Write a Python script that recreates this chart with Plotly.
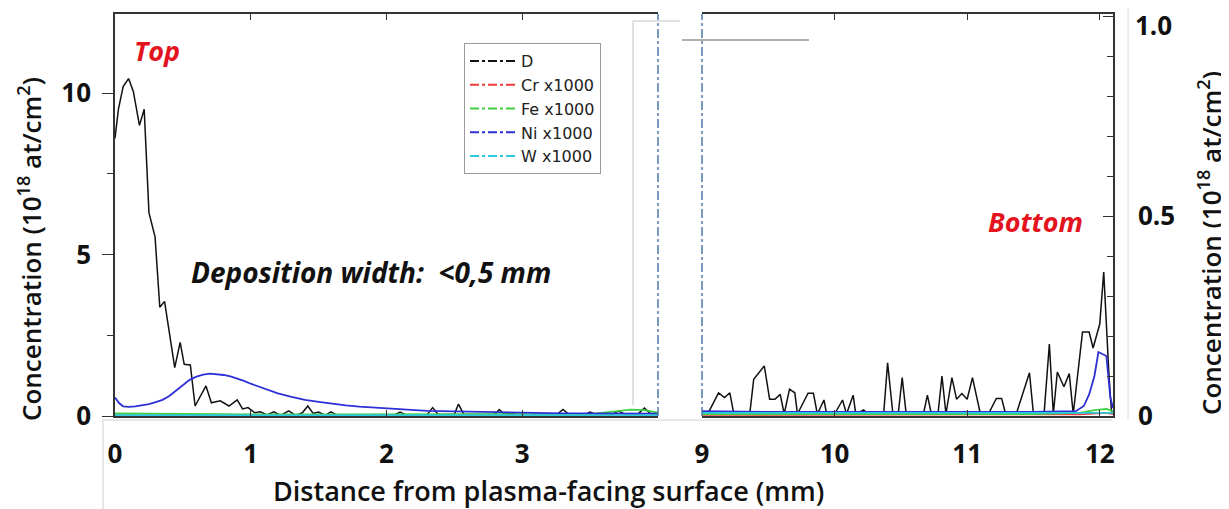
import plotly.graph_objects as go

# page body has an 8px margin; the figure fills the rest of the 1229x509 window
OFF = 8
W, H = 1229 - OFF, 509 - OFF

# ---------------- data ----------------
# Top side (left panel), x in mm, concentration in 1e18 at/cm2
x_d_top = [0.00, 0.025, 0.06, 0.10, 0.135, 0.18, 0.215, 0.25, 0.295, 0.33, 0.365, 0.40, 0.44, 0.48, 0.51,
           0.555, 0.59, 0.67, 0.71, 0.775, 0.84, 0.90, 0.94, 0.98, 1.03, 1.07, 1.12, 1.17, 1.22, 1.28,
           1.33, 1.38, 1.42, 1.46, 1.50, 1.55, 1.59, 1.64, 1.70, 1.80, 1.90, 2.00, 2.05, 2.10, 2.15,
           2.25, 2.30, 2.34, 2.38, 2.45, 2.50, 2.53, 2.57, 2.65, 2.75, 2.80, 2.83, 2.87, 2.92, 2.96,
           3.05, 3.15, 3.25, 3.30, 3.35, 3.45, 3.50, 3.55, 3.65, 3.71, 3.76, 3.85, 3.90, 3.95, 4.00]
d_top = [8.6, 9.5, 10.2, 10.45, 10.05, 9.0, 9.5, 6.3, 5.55, 3.37, 3.55, 2.55, 1.5, 2.28, 1.6,
         1.58, 0.31, 0.93, 0.41, 0.47, 0.31, 0.5, 0.22, 0.26, 0.10, 0.13, 0.03, 0.13, 0.02, 0.16,
         0.02, 0.10, 0.31, 0.08, 0.12, 0.02, 0.13, 0.02, 0.02, 0.02, 0.02, 0.02, 0.02, 0.12, 0.02,
         0.02, 0.05, 0.26, 0.05, 0.05, 0.05, 0.37, 0.05, 0.05, 0.05, 0.05, 0.20, 0.05, 0.10, 0.03,
         0.03, 0.03, 0.03, 0.20, 0.03, 0.03, 0.12, 0.03, 0.03, 0.15, 0.05, 0.05, 0.25, 0.05, 0.05]

x_ni_top = [0.0, 0.03, 0.06, 0.10, 0.15, 0.20, 0.25, 0.30, 0.35, 0.40, 0.45, 0.50, 0.55, 0.60, 0.65,
            0.70, 0.75, 0.80, 0.85, 0.90, 0.95, 1.0, 1.1, 1.2, 1.3, 1.4, 1.5, 1.6, 1.7, 1.8, 1.9, 2.0,
            2.1, 2.2, 2.3, 2.4, 2.5, 2.6, 2.7, 2.8, 2.9, 3.0, 3.1, 3.2, 3.3, 3.4, 3.5, 3.6, 3.7, 3.8,
            3.9, 4.0]
ni_top = [0.57, 0.40, 0.30, 0.28, 0.30, 0.33, 0.37, 0.43, 0.50, 0.62, 0.78, 0.95, 1.12, 1.22, 1.28,
          1.31, 1.30, 1.27, 1.23, 1.17, 1.09, 1.00, 0.84, 0.70, 0.59, 0.50, 0.44, 0.38, 0.33, 0.29,
          0.26, 0.23, 0.20, 0.18, 0.16, 0.15, 0.14, 0.13, 0.12, 0.11, 0.10, 0.10, 0.09, 0.09, 0.08,
          0.08, 0.08, 0.07, 0.07, 0.07, 0.07, 0.07]

x_minor_top = [0.0, 0.5, 1.0, 1.5, 2.0, 2.5, 3.0, 3.5, 3.7, 3.8, 3.9, 4.0]
fe_top = [0.08, 0.06, 0.05, 0.05, 0.05, 0.05, 0.05, 0.06, 0.15, 0.20, 0.18, 0.10]
cr_top = [0.02, 0.02, 0.02, 0.02, 0.02, 0.02, 0.02, 0.02, 0.02, 0.03, 0.03, 0.02]
w_top = [0.03, 0.03, 0.03, 0.03, 0.03, 0.03, 0.03, 0.03, 0.03, 0.03, 0.03, 0.03]

# Bottom side (right panel), right axis scale
x_d_bot = [9.00, 9.05, 9.125, 9.17, 9.21, 9.24, 9.30, 9.36, 9.39, 9.47, 9.51, 9.55, 9.59, 9.62, 9.66,
           9.70, 9.72, 9.80, 9.84, 9.87, 9.92, 9.94, 10.00, 10.06, 10.09, 10.14, 10.16, 10.22, 10.25,
           10.30, 10.37, 10.40, 10.44, 10.48, 10.51, 10.54, 10.60, 10.67, 10.70, 10.73, 10.78, 10.81,
           10.84, 10.885, 10.92, 10.96, 11.00, 11.04, 11.10, 11.16, 11.22, 11.26, 11.29, 11.37, 11.47,
           11.50, 11.58, 11.62, 11.65, 11.68, 11.73, 11.77, 11.80, 11.87, 11.92, 11.95, 12.00, 12.03,
           12.07, 12.09]
d_bot = [0.005, 0.01, 0.058, 0.046, 0.058, 0.005, 0.005, 0.005, 0.092, 0.125, 0.042, 0.042, 0.054, 0.005,
         0.067, 0.058, 0.005, 0.057, 0.057, 0.005, 0.04, 0.005, 0.005, 0.04, 0.005, 0.052, 0.005, 0.015,
         0.005, 0.005, 0.005, 0.133, 0.005, 0.005, 0.096, 0.005, 0.005, 0.005, 0.052, 0.005, 0.005, 0.10,
         0.005, 0.096, 0.042, 0.056, 0.042, 0.096, 0.005, 0.005, 0.044, 0.044, 0.005, 0.005, 0.108, 0.005,
         0.005, 0.18, 0.005, 0.11, 0.073, 0.106, 0.005, 0.21, 0.21, 0.17, 0.23, 0.36, 0.10, 0.005]

x_ni_bot = [9.0, 9.5, 10.0, 10.5, 11.0, 11.5, 11.82, 11.88, 11.92, 11.96, 11.99, 12.03, 12.05, 12.08, 12.10]
ni_bot = [0.012, 0.010, 0.010, 0.010, 0.010, 0.010, 0.012, 0.025, 0.054, 0.10, 0.16, 0.152, 0.15, 0.046, 0.02]

x_minor_bot = [9.0, 9.5, 10.0, 10.5, 11.0, 11.5, 11.85, 11.95, 12.05, 12.10]
fe_bot = [0.005, 0.005, 0.005, 0.005, 0.005, 0.005, 0.008, 0.014, 0.018, 0.012]
cr_bot = [0.003, 0.003, 0.003, 0.004, 0.003, 0.003, 0.004, 0.006, 0.008, 0.005]
w_bot = [0.008, 0.008, 0.008, 0.008, 0.008, 0.008, 0.008, 0.008, 0.008, 0.008]

series_names = ["D", "Cr x1000", "Fe x1000", "Ni x1000", "W x1000"]
series_colors = ["#111111", "#ee3b3b", "#3fcf3f", "#2f2fd6", "#2cc9df"]

x_ticks_top = [0, 1, 2, 3]
x_ticks_bot = [9, 10, 11, 12]
y_ticks_left = [0, 5, 10]
y_ticks_right = [0, 0.5, 1.0]
y_ticktext_right = ["0", "0.5", ""]   # top label "1.0" is placed just below its tick, as in the original
y_top_label_right = "1.0"

# ---------------- figure ----------------
def px(x):
    """window pixel x -> paper fraction"""
    return (x - OFF) / W


def py(y):
    """window pixel y -> paper fraction"""
    return 1 - (y - OFF) / H


FONT = "Open Sans"
fig = go.Figure()

panels = [
    ("x", "y", [(x_d_top, d_top), (x_minor_top, cr_top), (x_minor_top, fe_top), (x_ni_top, ni_top), (x_minor_top, w_top)]),
    ("x2", "y2", [(x_d_bot, d_bot), (x_minor_bot, cr_bot), (x_minor_bot, fe_bot), (x_ni_bot, ni_bot), (x_minor_bot, w_bot)]),
]
for xa, ya, data in panels:
    for (xs, ys), name, col in zip(data, series_names, series_colors):
        fig.add_trace(go.Scatter(x=xs, y=ys, xaxis=xa, yaxis=ya, mode="lines",
                                 line=dict(color=col, width=1.8 if name != "D" else 1.5),
                                 showlegend=False, hoverinfo="skip"))

# legend entries (dash-dot samples)
for name, col in zip(series_names, series_colors):
    fig.add_trace(go.Scatter(x=[None], y=[None], xaxis="x", yaxis="y", mode="lines", name=name,
                             line=dict(color=col, width=2, dash="dashdot")))

tickfont = dict(family=FONT, size=26, color="#111", weight="bold")
axis_line = dict(showline=True, linecolor="#333", linewidth=1.5, showgrid=False, zeroline=False,
                 automargin=False)

fig.update_layout(
    width=W, height=H,
    margin=dict(l=0, r=0, t=0, b=0, pad=0, autoexpand=False),
    paper_bgcolor="white", plot_bgcolor="white",
    font=dict(family=FONT, color="#111"),
    xaxis=dict(domain=[px(115), px(658)], range=[0, 4.0], anchor="y", mirror="ticks",
               ticks="inside", ticklen=6, tickcolor="#333", tickvals=x_ticks_top,
               tickfont=tickfont, ticklabelstandoff=14, **axis_line),
    yaxis=dict(domain=[py(416), py(14)], range=[0, 12.45], anchor="x",
               ticks="outside", ticklen=11, tickcolor="#333", tickvals=y_ticks_left,
               minor=dict(dtick=2.5, ticks="outside", ticklen=6, tickcolor="#333"),
               tickfont=tickfont, ticklabelstandoff=6, **axis_line),
    xaxis2=dict(domain=[px(702), px(1113)], range=[9.0, 12.1], anchor="y2", mirror="ticks",
                ticks="inside", ticklen=6, tickcolor="#333", tickvals=x_ticks_bot,
                tickfont=tickfont, ticklabelstandoff=14, **axis_line),
    yaxis2=dict(domain=[py(416), py(14)], range=[0, 1.005], anchor="x2", side="right",
                ticks="inside", ticklen=10, tickcolor="#333", tickvals=y_ticks_right,
                ticktext=y_ticktext_right, ticklabeloverflow="allow",
                minor=dict(dtick=0.1, ticks="inside", ticklen=6, tickcolor="#333"),
                tickfont=tickfont, ticklabelstandoff=18, **axis_line),
    legend=dict(x=px(464), y=py(43), xanchor="left", yanchor="top",
                bordercolor="#9a9a9a", borderwidth=1, bgcolor="white",
                font=dict(family="DejaVu Sans", size=16, color="#222"),
                itemwidth=46, tracegroupgap=0),
)

title_font = dict(family=FONT, size=26, color="#111", weight=600)
ann = [
    dict(text="Concentration (10<sup>18</sup> at/cm<sup>2</sup>)", x=px(30), y=py(249), textangle=-90,
         font=title_font),
    dict(text="Concentration (10<sup>18</sup> at/cm<sup>2</sup>)", x=px(1210), y=py(243), textangle=-90,
         font=title_font),
    dict(text="Distance from plasma-facing surface (mm)", x=px(548), y=py(490),
         font=dict(family=FONT, size=27, color="#111", weight=600)),
    dict(text="<b><i>Top</i></b>", x=px(157), y=py(50), font=dict(family=FONT, size=27, color="#e3141e")),
    dict(text="<b><i>Bottom</i></b>", x=px(1035), y=py(222), font=dict(family=FONT, size=27, color="#e3141e")),
    dict(text="<b><i>Deposition width:  &lt;0,5 mm</i></b>", x=px(371), y=py(272),
         font=dict(family=FONT, size=28, color="#111")),
    dict(text=y_top_label_right, x=px(1133), y=py(25), xanchor="left",
         font=tickfont),
]
for a in ann:
    a.setdefault("xanchor", "center")
    fig.add_annotation(xref="paper", yref="paper", showarrow=False, yanchor="middle", **a)

shapes = [
    # break markers
    dict(x0=px(658), x1=px(658), y0=py(416), y1=py(14), line=dict(color="#4f79a8", width=1.5, dash="dashdot")),
    dict(x0=px(702), x1=px(702), y0=py(416), y1=py(14), line=dict(color="#4f79a8", width=1.5, dash="dashdot")),
    # light grey overlay frame lines
    dict(x0=px(633), x1=px(633), y0=py(405), y1=py(21), line=dict(color="#c4c4c4", width=1)),
    dict(x0=px(633), x1=px(680), y0=py(21), y1=py(21), line=dict(color="#c4c4c4", width=1)),
    dict(x0=px(682), x1=px(809), y0=py(40), y1=py(40), line=dict(color="#b0b0b0", width=2)),
    dict(x0=px(1128), x1=px(1128), y0=py(420), y1=py(8), line=dict(color="#dcdcdc", width=1)),
    # bottom label frame
    dict(x0=px(103), x1=px(1112), y0=py(420), y1=py(420), line=dict(color="#d0d0d0", width=1)),
    dict(x0=px(103), x1=px(103), y0=py(420), y1=0, line=dict(color="#d0d0d0", width=1)),
]
for s in shapes:
    fig.add_shape(type="line", xref="paper", yref="paper", **s)

fig.write_html("out.html")
